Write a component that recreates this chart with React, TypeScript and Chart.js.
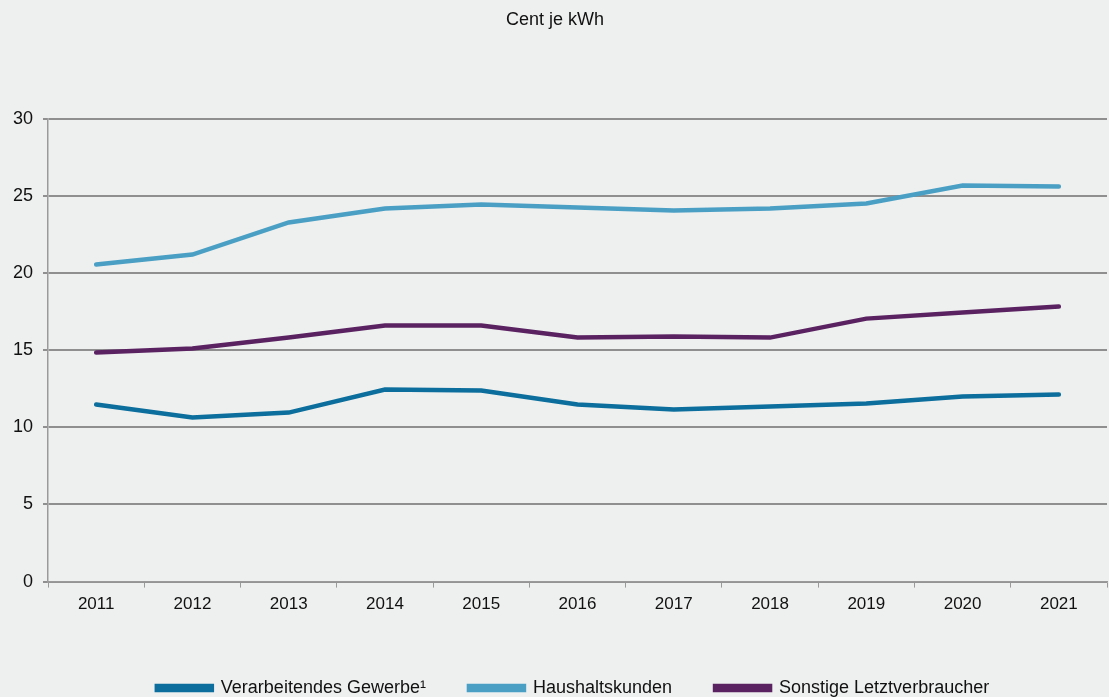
import React, { useEffect, useRef } from "react";
import { Chart, registerables } from "chart.js";

Chart.register(...registerables);

const years = ["2011", "2012", "2013", "2014", "2015", "2016", "2017", "2018", "2019", "2020", "2021"];
const verarbeitendes = [11.47, 10.63, 10.95, 12.44, 12.38, 11.47, 11.15, 11.34, 11.54, 11.99, 12.12];
const haushalt = [20.54, 21.19, 23.27, 24.17, 24.43, 24.24, 24.04, 24.17, 24.5, 25.66, 25.6];
const sonstige = [14.84, 15.1, 15.81, 16.59, 16.59, 15.81, 15.88, 15.81, 17.04, 17.43, 17.82];
const unitLabel = "Cent je kWh";

const FONT = "'Liberation Sans', Arial, sans-serif";
const BG = "#eef0ef";

const shiftLegend = {
  id: "shiftLegend",
  afterLayout(chart: any) {
    const l = chart.legend;
    if (l) {
      l.left += 18;
      l.right += 18;
    }
  },
};

export default function App() {
  const ref = useRef<HTMLCanvasElement | null>(null);
  useEffect(() => {
    document.body.style.margin = "0";
    document.body.style.background = BG;
    const ctx = ref.current!;
    const mk = (label: string, data: number[], color: string) => ({
      label,
      data,
      borderColor: color,
      backgroundColor: color,
      borderWidth: 4.5,
      pointRadius: 0,
      tension: 0,
      borderCapStyle: "round" as const,
    });
    const chart = new Chart(ctx, {
      type: "line",
      data: {
        labels: years,
        datasets: [
          mk("Verarbeitendes Gewerbe¹", verarbeitendes, "#0b6e9c"),
          mk("Haushaltskunden", haushalt, "#4a9fc5"),
          mk("Sonstige Letztverbraucher", sonstige, "#5b2262"),
        ],
      },
      plugins: [shiftLegend],
      options: {
        animation: false,
        responsive: true,
        maintainAspectRatio: false,
        layout: { padding: { left: 3, right: 2, top: 0, bottom: -10 } },
        plugins: {
          title: {
            display: true,
            text: unitLabel,
            color: "#111",
            font: { family: FONT, size: 18, weight: "normal" },
            padding: { top: 9, bottom: 88 },
          },
          legend: {
            position: "bottom",
            labels: {
              color: "#111",
              font: { family: FONT, size: 18 },
              boxWidth: 55,
              boxHeight: 4,
              padding: 43,
            },
          },
          tooltip: { enabled: false },
        },
        scales: {
          x: {
            offset: true,
            grid: {
              offset: true,
              drawOnChartArea: false,
              drawTicks: true,
              tickLength: 6,
              color: "#9a9a9a",
              lineWidth: 1,
            },
            border: { color: "#9a9a9a", width: 1.5 },
            ticks: { color: "#111", font: { family: FONT, size: 17 }, padding: 7 },
            afterFit: (scale: any) => {
              scale.height += 14;
            },
          },
          y: {
            min: 0,
            max: 30,
            ticks: { stepSize: 5, color: "#111", font: { family: FONT, size: 18 }, padding: 10 },
            grid: { color: "#8f8f8f", lineWidth: 2, tickLength: 5 },
            border: { color: "#9a9a9a", width: 1.5 },
          },
        },
      },
    });
    return () => chart.destroy();
  }, []);
  return (
    <div style={{ width: 1109, height: 697, background: BG, position: "relative" }}>
      <canvas ref={ref} />
    </div>
  );
}
